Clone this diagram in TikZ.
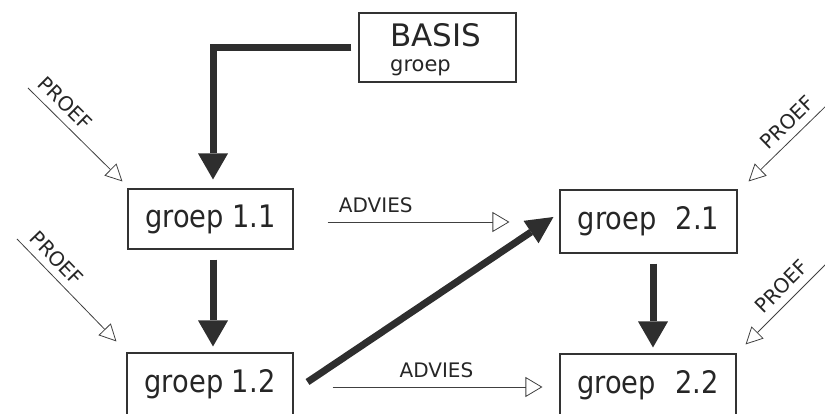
\documentclass[tikz,border=0pt]{standalone}
\usepackage{fontspec}
\setmainfont{DejaVu Sans}[FakeStretch=0.88]
\newfontfamily\widefont{DejaVu Sans}
\usetikzlibrary{arrows.meta,calc}
\begin{document}
\begin{tikzpicture}[x=1pt,y=-1pt,
  box/.style={draw=black!80, line width=1.1pt, rectangle, inner sep=0pt, text=black!85},
  groepbox/.style={box, font=\fontsize{31}{31}\selectfont},
  heavy/.style={draw=black!82, line width=7pt, line join=miter,
    -{Triangle[length=26pt,width=30pt,line width=0pt]}},
  heavydiag/.style={draw=black!82, line width=7pt,
    -{Triangle[length=27pt,width=27pt,line width=0pt]}},
  advies/.style={draw=black!75, line width=0.8pt, -{Triangle[open,length=17pt,width=20pt]}},
  proef/.style={draw=black!75, line width=0.8pt, -{Triangle[open,length=17pt,width=17pt]}},
  lbl/.style={inner sep=0pt, text=black!85, font=\widefont\fontsize{20}{20}\selectfont},
  plbl/.style={inner sep=0.5pt, text=black!85, font=\widefont\fontsize{20}{20}\selectfont}
]
\useasboundingbox (0,0) rectangle (825,414);
\clip (0,0) rectangle (825,414);

% boxes
\node[box, minimum width=157pt, minimum height=69pt] (basis) at (437.5,47.5) {};
\node[anchor=base west, inner sep=0pt, text=black!85, font=\widefont\fontsize{31}{31}\selectfont] (basistitle) at (390,47) {BASIS};
\node[anchor=base west, inner sep=0pt, text=black!85, font=\widefont\fontsize{21}{21}\selectfont] (basissub) at (390,72) {groep};

\node[groepbox, minimum width=165pt, minimum height=60pt] (g11) at (210.5,219) {groep 1.1};
\node[groepbox, minimum width=166pt, minimum height=62pt] (g12) at (210,384) {groep 1.2};
\node[groepbox, minimum width=177pt, minimum height=63pt] (g21) at (648.5,221.5) {groep\hspace{0.35em} 2.1};
\node[groepbox, minimum width=176pt, minimum height=62pt] (g22) at (648,385) {groep\hspace{0.35em} 2.2};

% heavy arrows
\draw[heavy] ($(basis.west)+(-7,0.5)$) -| ($(g11.north)+(2.5,-9)$);
\draw[heavy] ($(g11.south)+(2.5,10)$) -- ($(g12.north)+(3,-6)$);
\draw[heavy] ($(g21.south)+(4.5,10)$) -- ($(g22.north)+(5,-6)$);
\draw[heavydiag] ($(g12.east)+(14,-2)$) -- ($(g21.west)+(-6,-4.5)$);

% advies
\draw[advies] ($(g11.east)+(34,3)$) -- ($(g21.west)+(-50,0.5)$)
  node[pos=0.265, above=9pt, lbl] {ADVIES};
\draw[advies] ($(g12.east)+(39,3)$) -- ($(g22.west)+(-17,2)$)
  node[pos=0.495, above=9pt, lbl] {ADVIES};

% proef
\coordinate (p1) at (28,88);
\coordinate (p2) at (17,239);
\coordinate (p3) at (828,104);
\coordinate (p4) at (828,262);
\draw[proef] (p1) -- ($(g11.north west)+(-5,-7)$)
  node[pos=0.28, sloped, above=7pt, plbl] {PROEF};
\draw[proef] (p2) -- ($(g12.north west)+(-10,-11)$)
  node[pos=0.29, sloped, above=7pt, plbl] {PROEF};
\draw[proef] (p3) -- ($(g21.north east)+(11,-8)$)
  node[pos=0.38, sloped, above=7pt, plbl] {PROEF};
\draw[proef] (p4) -- ($(g22.north east)+(9,-9)$)
  node[pos=0.43, sloped, above=7pt, plbl] {PROEF};
\end{tikzpicture}
\end{document}
